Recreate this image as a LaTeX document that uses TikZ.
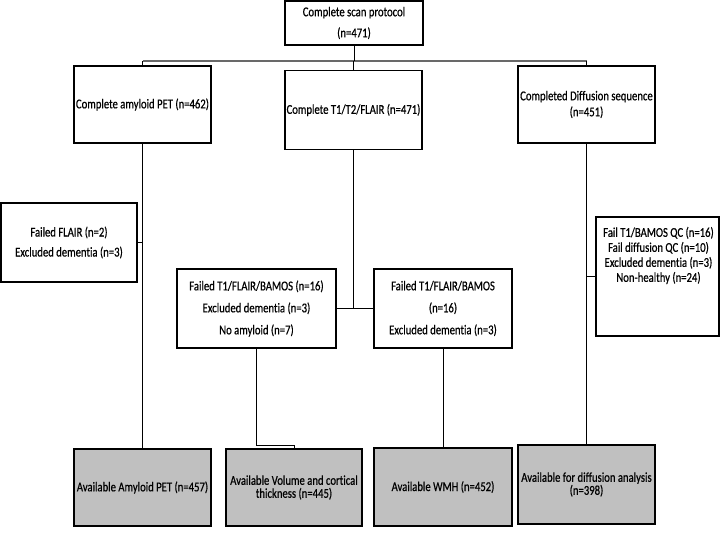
\documentclass[tikz,border=0pt]{standalone}
\usepackage{fontspec}
\setmainfont[FakeStretch=0.79,FakeBold=0.6,Ligatures=NoCommon]{Carlito}
\definecolor{boxgray}{RGB}{192,192,192}
\definecolor{linegray}{RGB}{105,105,105}
\newcommand\txtsz[1]{\fontsize{13.5}{#1}\selectfont}
\begin{document}
\begin{tikzpicture}[x=1pt,y=-1pt,
  box/.style={draw=black, line width=1.2pt, fill=white, align=center, inner sep=0pt, font=\txtsz{15}},
  gbox/.style={box, fill=boxgray, line width=1.8pt},
  conn/.style={draw=black, line width=0.9pt},
  hconn/.style={draw=linegray, line width=2.2pt}]
\useasboundingbox (0,0) rectangle (720,540);
% top row
\node[box, minimum width=138, minimum height=44, font=\txtsz{21}] (top) at (354,23) {Complete scan protocol\\(n=471)};
\node[box, minimum width=137, minimum height=77] (left) at (142.5,104.5) {Complete amyloid PET (n=462)};
\node[box, minimum width=137, minimum height=78.5] (mid) at (353.5,110) {Complete T1/T2/FLAIR (n=471)};
\node[box, minimum width=137, minimum height=77, font=\txtsz{16}] (right) at (586.5,104.5) {Completed Diffusion sequence\\(n=451)};
% exclusion boxes
\node[box, minimum width=136, minimum height=79, font=\txtsz{20}] (flair) at (69,242.5) {Failed FLAIR (n=2)\\Excluded dementia (n=3)};
\node[box, minimum width=159, minimum height=79, font=\txtsz{22}] (ftA) at (256.5,308.5) {Failed T1/FLAIR/BAMOS (n=16)\\Excluded dementia (n=3)\\No amyloid (n=7)};
\node[box, minimum width=138, minimum height=79, font=\txtsz{22}] (ftB) at (443,308.5) {Failed T1/FLAIR/BAMOS\\(n=16)\\Excluded dementia (n=3)};
\node[box, minimum width=123, minimum height=119] (qc) at (657.5,276.5) {};
\node[align=center, inner sep=0pt, font=\txtsz{15}, anchor=center] (qctext) at (658.5,255.5) {Fail T1/BAMOS QC (n=16)\\Fail diffusion QC (n=10)\\Excluded dementia (n=3)\\Non-healthy (n=24)};
% bottom boxes
\node[gbox, minimum width=137, minimum height=77] (b1) at (142.5,487.5) {Available Amyloid PET (n=457)};
\node[gbox, minimum width=136, minimum height=77, font=\txtsz{13}] (b2) at (294,487.5) {Available Volume and cortical\\thickness (n=445)};
\node[gbox, minimum width=138, minimum height=78] (b3) at (443,487) {Available WMH (n=452)};
\node[gbox, minimum width=137, minimum height=79, font=\txtsz{13}] (b4) at (586.5,484.5) {Available for diffusion analysis\\(n=398)};
% connectors
\coordinate (hl) at (142.5,61);
\draw[hconn] (left.north |- hl) -- (right.north |- hl);
\draw[conn] (top.south) -- (top.south |- hl);
\draw[conn] (left.north) -- (left.north |- hl);
\draw[conn] (mid.north) -- (mid.north |- hl);
\draw[conn] (right.north) -- (right.north |- hl);
\draw[conn] (left.south) -- (b1.north);
\draw[conn] (flair.east) -- (flair.east -| left.south);
\draw[conn] (ftA.east) -- (ftB.west);
\draw[conn] (mid.south) -- (mid.south |- ftA.east);
\draw[conn] (ftA.south) -- ++(0,97) -| (b2.north);
\draw[conn] (ftB.south) -- (b3.north);
\draw[conn] (right.south) -- (b4.north);
\draw[conn] (qc.west) -- (qc.west -| right.south);
\end{tikzpicture}
\end{document}
